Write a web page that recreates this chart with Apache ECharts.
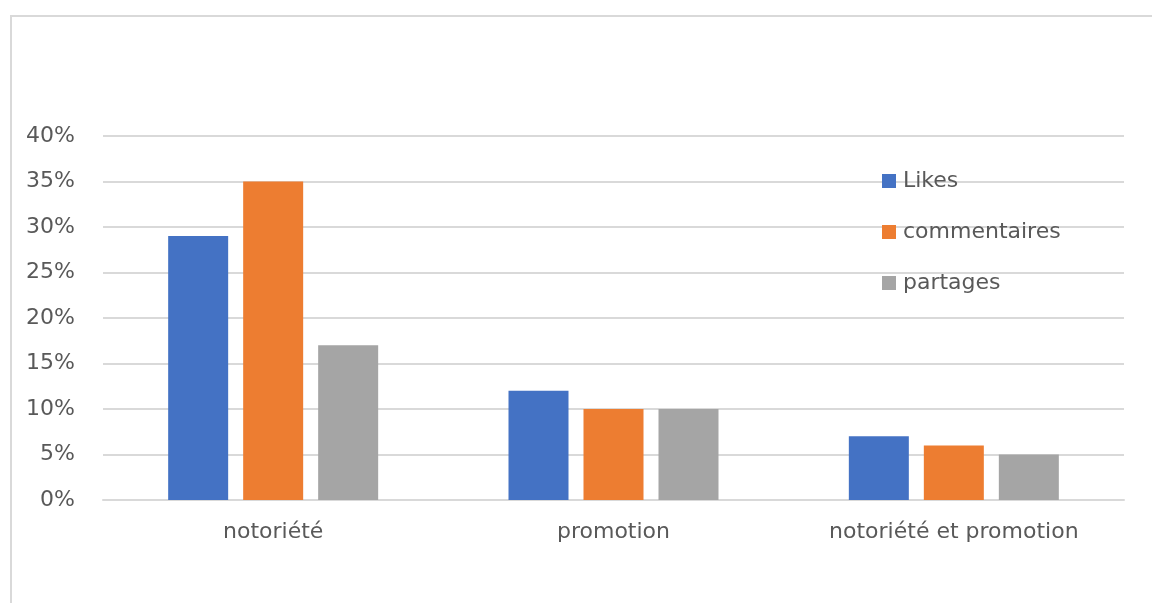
<!DOCTYPE html>
<html>
<head>
<meta charset="utf-8">
<script src="https://cdn.jsdelivr.net/npm/echarts@6/dist/echarts.min.js"></script>
<style>html,body{margin:0;padding:0;background:#fff;}#c{width:1152px;height:603px;}</style>
</head>
<body>
<div id="c"></div>
<script>
const categories = ['notoriété', 'promotion', 'notoriété et promotion'];
const likes = [29, 12, 7];
const commentaires = [35, 10, 6];
const partages = [17, 10, 5];
const yTicks = [0, 5, 10, 15, 20, 25, 30, 35, 40];

const chart = echarts.init(document.getElementById('c'));
const font = '"DejaVu Sans", "Open Sans", sans-serif';
const fs = 22;
chart.setOption({
  animation: false,
  textStyle: { fontFamily: font },
  graphic: [{
    type: 'rect', silent: true,
    shape: { x: 11, y: 16, width: 1200, height: 650 },
    style: { fill: 'none', stroke: '#d9d9d9', lineWidth: 2 }
  }],
  grid: { left: 103, right: 28, top: 136, bottom: 103, containLabel: false },
  legend: {
    orient: 'vertical', left: 882, top: 170, padding: 0,
    itemWidth: 14, itemHeight: 14, itemGap: 29,
    icon: 'rect',
    textStyle: { color: '#595959', fontSize: fs, fontFamily: font, padding: [0, 0, 0, 2] },
    data: ['Likes', 'commentaires', 'partages']
  },
  xAxis: {
    type: 'category', data: categories,
    axisLine: { lineStyle: { color: '#d9d9d9', width: 2 } },
    axisTick: { show: false },
    axisLabel: { color: '#595959', fontSize: fs, margin: 21, fontFamily: font }
  },
  yAxis: {
    type: 'value', min: 0, max: 40, interval: 5,
    axisLine: { show: false }, axisTick: { show: false },
    splitLine: { lineStyle: { color: '#d9d9d9', width: 2 } },
    axisLabel: { color: '#595959', fontSize: fs, margin: 28, fontFamily: font,
      formatter: v => yTicks.includes(v) ? v + '%' : '' }
  },
  series: [
    { name: 'Likes', type: 'bar', data: likes, itemStyle: { color: '#4472c4' }, barWidth: 60, barGap: '25%' },
    { name: 'commentaires', type: 'bar', data: commentaires, itemStyle: { color: '#ed7d31' }, barWidth: 60, barGap: '25%' },
    { name: 'partages', type: 'bar', data: partages, itemStyle: { color: '#a5a5a5' }, barWidth: 60, barGap: '25%' }
  ]
});
</script>
</body>
</html>
